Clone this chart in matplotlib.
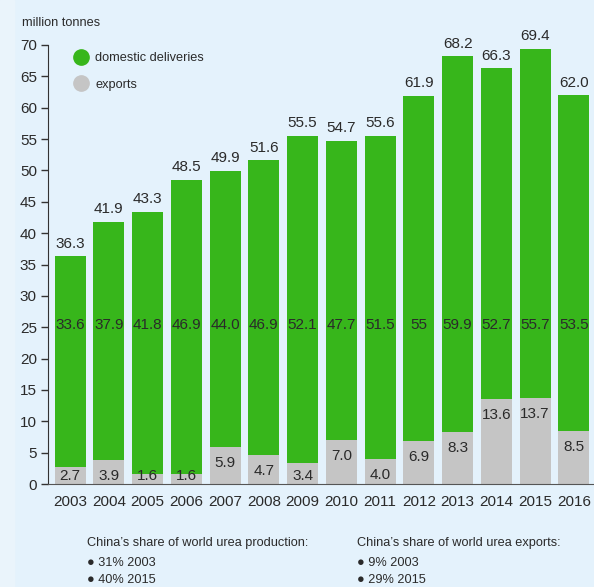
import matplotlib
matplotlib.use("Agg")
import matplotlib.pyplot as plt
from matplotlib.patches import Rectangle
from matplotlib.lines import Line2D

plt.rcParams['font.family'] = ['Liberation Sans', 'DejaVu Sans']

# data
years = ['2003', '2004', '2005', '2006', '2007', '2008', '2009',
         '2010', '2011', '2012', '2013', '2014', '2015', '2016']
domestic = [33.6, 37.9, 41.8, 46.9, 44.0, 46.9, 52.1, 47.7, 51.5, 55, 59.9, 52.7, 55.7, 53.5]
exports = [2.7, 3.9, 1.6, 1.6, 5.9, 4.7, 3.4, 7.0, 4.0, 6.9, 8.3, 13.6, 13.7, 8.5]
totals = ['36.3', '41.9', '43.3', '48.5', '49.9', '51.6', '55.5',
          '54.7', '55.6', '61.9', '68.2', '66.3', '69.4', '62.0']
dom_labels = ['33.6', '37.9', '41.8', '46.9', '44.0', '46.9', '52.1',
              '47.7', '51.5', '55', '59.9', '52.7', '55.7', '53.5']
exp_labels = ['2.7', '3.9', '1.6', '1.6', '5.9', '4.7', '3.4',
              '7.0', '4.0', '6.9', '8.3', '13.6', '13.7', '8.5']

green = '#37b61b'
grey = '#c5c5c5'
bg = '#e4f2fc'
txt = '#2a2a2a'

fig = plt.figure(figsize=(5.94, 5.87), dpi=100, facecolor=bg)
fig.patches.append(Rectangle((0, 0), 14 / 594, 1, transform=fig.transFigure,
                             color='#eaf4fb', zorder=0))
ax = fig.add_axes([48 / 594, 103 / 587, 1 - 48 / 594, 439 / 587])
ax.set_facecolor(bg)

x = list(range(len(years)))
ax.bar(x, exports, width=0.8, color=grey, zorder=2)
ax.bar(x, domestic, width=0.8, bottom=exports, color=green, zorder=2)

for i in x:
    top = domestic[i] + exports[i]
    ax.text(i, top + 0.9, totals[i], ha='center', va='bottom', fontsize=11, color=txt)
    ax.text(i, 25.4, dom_labels[i], ha='center', va='center', fontsize=11, color=txt)
    ax.text(i, max(exports[i] - 2.6, 1.2), exp_labels[i], ha='center', va='center',
            fontsize=11, color=txt)

ax.set_xlim(-0.57, 13.52)
ax.set_ylim(0, 70)
ax.set_yticks(range(0, 71, 5))
ax.set_xticks(x)
ax.set_xticklabels(years)
ax.tick_params(axis='y', length=5, width=1, color='#333333', labelsize=11,
               labelcolor=txt, pad=3)
ax.tick_params(axis='x', length=0, labelsize=11, labelcolor=txt, pad=8)
for s in ['top', 'right']:
    ax.spines[s].set_visible(False)
ax.spines['left'].set_color('#333333')
ax.spines['bottom'].set_color('#555555')

ax.text(-0.57 - 0.67, 72.6, 'million tonnes', ha='left', va='bottom', fontsize=9.2,
        color=txt, clip_on=False)

handles = [Line2D([], [], marker='o', linestyle='', markersize=11, color=green),
           Line2D([], [], marker='o', linestyle='', markersize=11, color=grey)]
leg = ax.legend(handles, ['domestic deliveries', 'exports'], loc='upper left',
                bbox_to_anchor=(0.0467, 0.983), frameon=False, fontsize=9.2,
                handletextpad=0.5, labelspacing=1.12, handlelength=1.2,
                borderpad=0, borderaxespad=0)
for t in leg.get_texts():
    t.set_color(txt)

fs = 9.2
fig.text(87 / 594, 1 - 543 / 587, 'China\u2019s share of world urea production:',
         fontsize=fs, color=txt, va='center')
fig.text(87 / 594, 1 - 563 / 587, '\u25cf 31% 2003', fontsize=fs, color=txt, va='center')
fig.text(87 / 594, 1 - 580 / 587, '\u25cf 40% 2015', fontsize=fs, color=txt, va='center')
fig.text(357 / 594, 1 - 543 / 587, 'China\u2019s share of world urea exports:',
         fontsize=fs, color=txt, va='center')
fig.text(357 / 594, 1 - 563 / 587, '\u25cf 9% 2003', fontsize=fs, color=txt, va='center')
fig.text(357 / 594, 1 - 580 / 587, '\u25cf 29% 2015', fontsize=fs, color=txt, va='center')

fig.savefig('out.png', dpi=100, facecolor=bg)
